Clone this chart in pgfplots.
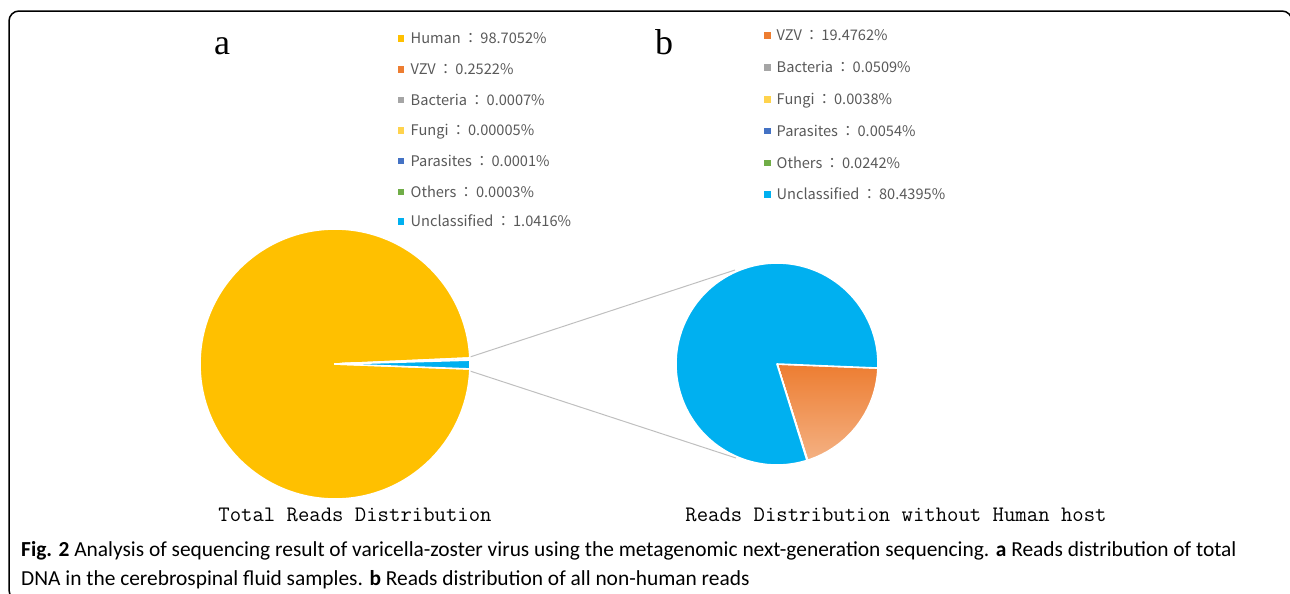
\documentclass[border=0pt]{standalone}
\usepackage{pgfplots}
\pgfplotsset{compat=1.18}
\usepackage{fontspec}
\newfontfamily\legfont{Noto Sans CJK TC}
\newfontfamily\capfont{Carlito}
\newfontfamily\letfont{Liberation Serif}
\definecolor{human}{HTML}{FFC000}
\definecolor{vzv}{HTML}{ED7D31}
\definecolor{vzvlight}{HTML}{F4B183}
\definecolor{bact}{HTML}{A5A5A5}
\definecolor{fungi}{HTML}{FFD34D}
\definecolor{para}{HTML}{4472C4}
\definecolor{oth}{HTML}{70AD47}
\definecolor{uncl}{HTML}{00B0F0}
\definecolor{legtext}{HTML}{595959}
\definecolor{conn}{HTML}{BFBFBF}
\tikzset{vzvgrad/.style={top color=vzv, bottom color=vzvlight}}
% pie: #1 cx, #2 cy, #3 radius (px=pt), #4 start angle, #5 list value/style
\newcommand\pie[5]{%
  \xdef\curang{#4}%
  \foreach \v/\col in {#5} {%
    \pgfmathsetmacro\endang{\curang-3.6*\v}%
    \edef\doit{\noexpand\fill[\col, draw=white, line width=1.6pt, line join=round]
      (axis cs:#1,#2) -- ++(\curang:#3pt) arc[start angle=\curang, end angle=\endang, radius=#3pt] -- cycle;}%
    \doit
    \xdef\curang{\endang}%
  }%
}
\newcommand\legfs{\legfont\fontsize{14.6}{18}\selectfont\color{legtext}}
\newcommand\cc{\hspace{2.5pt}：\hspace{2.5pt}}
\begin{document}
\begin{tikzpicture}
\begin{axis}[x=1pt, y=1pt, xmin=0, xmax=1290, ymin=0, ymax=594, y dir=reverse,
  hide axis, clip=false, enlargelimits=false]
% connector lines
\addplot[conn, line width=1pt, no marks] coordinates {(470,357) (735,270)};
\addplot[conn, line width=1pt, no marks] coordinates {(470,371) (736,458)};
% pie a: total reads
\pie{335}{364}{135}{-2.1}{98.7052/human, 0.2522/vzv, 0.0007/bact, 0.00005/fungi, 0.0001/para, 0.0003/oth, 1.0416/uncl}
% pie b: without human host
\pie{777}{364}{101}{-2.3}{19.4762/vzvgrad, 0.0509/bact, 0.0038/fungi, 0.0054/para, 0.0242/oth, 80.4395/uncl}
% legend a markers
\addplot[only marks, mark=square*, mark size=2.8pt, human] coordinates {(400.5,38.3)};
\addplot[only marks, mark=square*, mark size=2.8pt, vzv] coordinates {(400.5,69.3)};
\addplot[only marks, mark=square*, mark size=2.8pt, bact] coordinates {(400.5,99.5)};
\addplot[only marks, mark=square*, mark size=2.8pt, fungi] coordinates {(400.5,130.2)};
\addplot[only marks, mark=square*, mark size=2.8pt, para] coordinates {(400.5,160.7)};
\addplot[only marks, mark=square*, mark size=2.8pt, oth] coordinates {(400.5,191.5)};
\addplot[only marks, mark=square*, mark size=2.8pt, uncl] coordinates {(400.5,221.3)};
% legend b markers
\addplot[only marks, mark=square*, mark size=2.8pt, vzv] coordinates {(767,35.2)};
\addplot[only marks, mark=square*, mark size=2.8pt, bact] coordinates {(767,67.3)};
\addplot[only marks, mark=square*, mark size=2.8pt, fungi] coordinates {(767,99.3)};
\addplot[only marks, mark=square*, mark size=2.8pt, para] coordinates {(767,130.8)};
\addplot[only marks, mark=square*, mark size=2.8pt, oth] coordinates {(767,162.7)};
\addplot[only marks, mark=square*, mark size=2.8pt, uncl] coordinates {(767,194.2)};
% legend a text
\node[anchor=base west, inner sep=0pt] at (axis cs:410.5,43.8) {\legfs Human\cc98.7052\%};
\node[anchor=base west, inner sep=0pt] at (axis cs:410.5,74.8) {\legfs VZV\cc0.2522\%};
\node[anchor=base west, inner sep=0pt] at (axis cs:410.5,105.0) {\legfs Bacteria\cc0.0007\%};
\node[anchor=base west, inner sep=0pt] at (axis cs:410.5,135.7) {\legfs Fungi\cc0.00005\%};
\node[anchor=base west, inner sep=0pt] at (axis cs:410.5,166.2) {\legfs Parasites\cc0.0001\%};
\node[anchor=base west, inner sep=0pt] at (axis cs:410.5,197.0) {\legfs Others\cc0.0003\%};
\node[anchor=base west, inner sep=0pt] at (axis cs:410.5,226.8) {\legfs Unclassified\cc1.0416\%};
% legend b text
\node[anchor=base west, inner sep=0pt] at (axis cs:776.5,40.7) {\legfs VZV\cc19.4762\%};
\node[anchor=base west, inner sep=0pt] at (axis cs:776.5,72.8) {\legfs Bacteria\cc0.0509\%};
\node[anchor=base west, inner sep=0pt] at (axis cs:776.5,104.8) {\legfs Fungi\cc0.0038\%};
\node[anchor=base west, inner sep=0pt] at (axis cs:776.5,136.3) {\legfs Parasites\cc0.0054\%};
\node[anchor=base west, inner sep=0pt] at (axis cs:776.5,168.2) {\legfs Others\cc0.0242\%};
\node[anchor=base west, inner sep=0pt] at (axis cs:776.5,199.7) {\legfs Unclassified\cc80.4395\%};
% panel letters
\node[anchor=base, inner sep=0pt] at (axis cs:222,54) {\letfont\fontsize{36}{40}\selectfont a};
\node[anchor=base, inner sep=0pt] at (axis cs:664,54) {\letfont\fontsize{36}{40}\selectfont b};
% pie titles
\node[anchor=base, inner sep=0pt] at (axis cs:355,521) {\ttfamily\fontsize{22.1}{24}\selectfont Total Reads Distribution};
\node[anchor=base, inner sep=0pt] at (axis cs:896,521) {\ttfamily\fontsize{22.1}{24}\selectfont Reads Distribution without Human host};
% caption
\node[anchor=base west, inner sep=0pt] at (axis cs:21,556) {\capfont\fontsize{21.4}{24}\selectfont\textbf{Fig. 2} Analysis of sequencing result of varicella-zoster virus using the metagenomic next-generation sequencing. \textbf{a} Reads distribution of total};
\node[anchor=base west, inner sep=0pt] at (axis cs:21,585) {\capfont\fontsize{21.4}{24}\selectfont DNA in the cerebrospinal fluid samples. \textbf{b} Reads distribution of all non-human reads};
% frame
\draw[line width=1.5pt, rounded corners=10pt] (axis cs:1292,700) -- (axis cs:1292,11) -- (axis cs:9,11) -- (axis cs:9,600) -- (axis cs:1292,600);
\end{axis}
\pgfresetboundingbox
\useasboundingbox (current axis.south west) rectangle (current axis.north east);
\end{tikzpicture}
\end{document}
